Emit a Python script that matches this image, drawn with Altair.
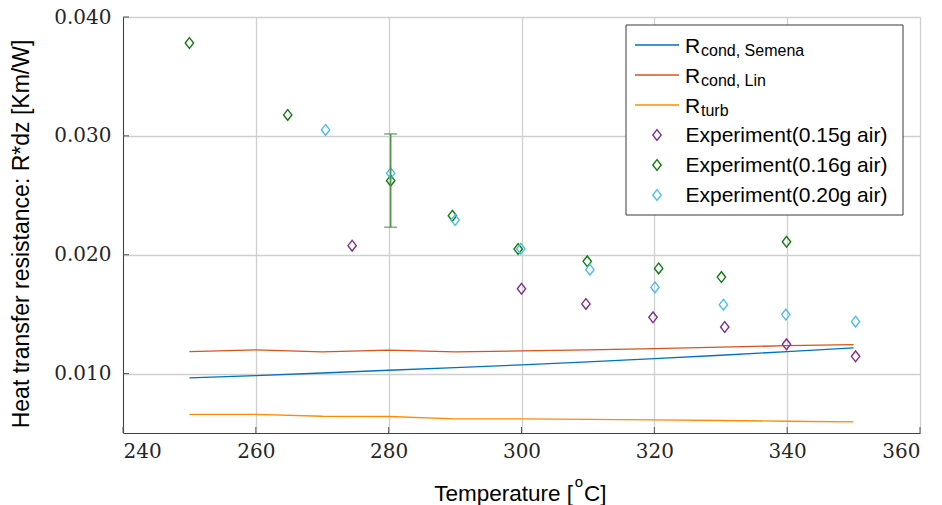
import altair as alt
import pandas as pd

# ---------------- data ----------------
temps_line = [250, 260, 270, 280, 290, 300, 310, 320, 330, 340, 350]
r_semena = [0.00964, 0.00983, 0.01005, 0.01028, 0.01050, 0.01073, 0.01098, 0.01126, 0.01154, 0.01185, 0.01216]
r_lin = [0.01185, 0.01199, 0.01183, 0.01198, 0.01183, 0.01191, 0.01200, 0.01210, 0.01222, 0.01235, 0.01244]
r_turb = [0.00656, 0.00656, 0.00641, 0.00639, 0.00619, 0.00619, 0.00615, 0.00611, 0.00605, 0.00599, 0.00594]

t_015 = [274.5, 300.0, 309.7, 319.8, 330.6, 339.9, 350.3]
r_015 = [0.02076, 0.01714, 0.01586, 0.01473, 0.01392, 0.01246, 0.01145]
t_016 = [250.0, 264.8, 280.3, 289.6, 299.5, 309.9, 320.65, 330.1, 339.9]
r_016 = [0.03781, 0.03176, 0.02623, 0.02328, 0.02048, 0.01944, 0.01885, 0.01812, 0.02109]
t_020 = [270.5, 280.3, 290.0, 299.9, 310.3, 320.1, 330.4, 339.8, 350.3]
r_020 = [0.0305, 0.02685, 0.02292, 0.0205, 0.01874, 0.01725, 0.01580, 0.01496, 0.01437]

err_t = [280.3]
err_lo = [0.02231]
err_hi = [0.03016]

line_series = ["Rcond, Semena", "Rcond, Lin", "Rturb"]
line_subs = ["cond, Semena", "cond, Lin", "turb"]
exp_series = ["Experiment(0.15g air)", "Experiment(0.16g air)", "Experiment(0.20g air)"]

x_ticks = [240, 260, 280, 300, 320, 340, 360]
y_ticks = [0.010, 0.020, 0.030, 0.040]

line_colors = ["#0072BD", "#D95319", "#FF8C00"]
exp_colors = ["#7E2F8E", "#137A13", "#4DBEEE"]

# ---------------- tables ----------------
lines_df = pd.concat([
    pd.DataFrame({"T": temps_line, "R": vals, "series": name})
    for name, vals in zip(line_series, [r_semena, r_lin, r_turb])
], ignore_index=True)

pts_df = pd.concat([
    pd.DataFrame({"T": t, "R": r, "series": name})
    for name, t, r in zip(exp_series, [t_015, t_016, t_020], [r_015, r_016, r_020])
], ignore_index=True)

err_df = pd.DataFrame({"T": err_t, "lo": err_lo, "hi": err_hi})
xt_df = pd.DataFrame({"T": x_ticks})
yt_df = pd.DataFrame({"R": y_ticks})
one = pd.DataFrame({"k": [0]})

W, H = 797, 416
xs = alt.Scale(domain=[240, 360], nice=False, zero=False)
ys = alt.Scale(domain=[0.005, 0.040], nice=False, zero=False)
cscale = alt.Scale(domain=line_series + exp_series, range=line_colors + exp_colors)
DIAMOND = "M0,-1L0.78,0L0,1L-0.78,0Z"
SANS = "Liberation Sans"
MSIZE = 115
MSTROKE = 1.4

lines = alt.Chart(lines_df).mark_line(strokeWidth=1.3).encode(
    x=alt.X("T:Q", scale=xs,
            axis=alt.Axis(values=x_ticks, format="d", title=None, labelPadding=8)),
    y=alt.Y("R:Q", scale=ys,
            axis=alt.Axis(values=y_ticks, format=".3f", title=None, labelPadding=12)),
    color=alt.Color("series:N", scale=cscale, legend=None),
)

points = alt.Chart(pts_df).mark_point(shape=DIAMOND, filled=False, size=MSIZE, strokeWidth=MSTROKE, opacity=1).encode(
    x=alt.X("T:Q", scale=xs),
    y=alt.Y("R:Q", scale=ys),
    color=alt.Color("series:N", scale=cscale, legend=None),
)

err_color = "#4E944E"
err_rule = alt.Chart(err_df).mark_rule(color=err_color, strokeWidth=1.6).encode(
    x=alt.X("T:Q", scale=xs), y=alt.Y("lo:Q", scale=ys), y2="hi:Q"
)
cap_lo = alt.Chart(err_df).mark_tick(color=err_color, orient="horizontal", size=13, thickness=1.6).encode(
    x=alt.X("T:Q", scale=xs), y=alt.Y("lo:Q", scale=ys)
)
cap_hi = alt.Chart(err_df).mark_tick(color=err_color, orient="horizontal", size=13, thickness=1.6).encode(
    x=alt.X("T:Q", scale=xs), y=alt.Y("hi:Q", scale=ys)
)

tick_color = "#555555"
xticks_in = alt.Chart(xt_df).mark_rule(color=tick_color, strokeWidth=1).encode(
    x=alt.X("T:Q", scale=xs), y=alt.value(H), y2=alt.value(H - 6)
)
yticks_in = alt.Chart(yt_df).mark_rule(color=tick_color, strokeWidth=1).encode(
    y=alt.Y("R:Q", scale=ys), x=alt.value(0), x2=alt.value(6)
)

# ---------------- titles ----------------
ytitle = alt.Chart(one).mark_text(angle=270, align="center", baseline="middle",
                                  font=SANS, fontSize=23, color="#000000").encode(
    x=alt.value(-101), y=alt.value(217), text=alt.value("Heat transfer resistance: R*dz [Km/W]"))
xt1 = alt.Chart(one).mark_text(align="right", baseline="alphabetic", font=SANS, fontSize=22.5, color="#000").encode(
    x=alt.value(450), y=alt.value(484), text=alt.value("Temperature ["))
xt2 = alt.Chart(one).mark_text(align="center", baseline="alphabetic", font=SANS, fontSize=15, color="#000").encode(
    x=alt.value(456), y=alt.value(470), text=alt.value("o"))
xt3 = alt.Chart(one).mark_text(align="left", baseline="alphabetic", font=SANS, fontSize=22.5, color="#000").encode(
    x=alt.value(461), y=alt.value(484), text=alt.value("C]"))

# ---------------- legend ----------------
legend_layers = [
    alt.Chart(one).mark_rect(fill="white", stroke="#3a3a3a", strokeWidth=1).encode(
        x=alt.value(503), x2=alt.value(780), y=alt.value(8), y2=alt.value(198))
]
row_y = [28, 58, 88, 118, 148, 178]
for i, (sub, col) in enumerate(zip(line_subs, line_colors)):
    yy = row_y[i]
    legend_layers.append(alt.Chart(one).mark_rule(color=col, strokeWidth=1.3).encode(
        x=alt.value(512), x2=alt.value(556), y=alt.value(yy)))
    legend_layers.append(alt.Chart(one).mark_text(align="left", baseline="alphabetic", font=SANS,
                                                  fontSize=21, color="#000").encode(
        x=alt.value(562), y=alt.value(yy + 7.5), text=alt.value("R")))
    legend_layers.append(alt.Chart(one).mark_text(align="left", baseline="alphabetic", font=SANS,
                                                  fontSize=16, color="#000").encode(
        x=alt.value(578), y=alt.value(yy + 11), text=alt.value(sub)))
for j, (lab, col) in enumerate(zip(exp_series, exp_colors)):
    yy = row_y[3 + j]
    legend_layers.append(alt.Chart(one).mark_point(shape=DIAMOND, filled=False, size=MSIZE,
                                                   strokeWidth=MSTROKE, color=col, opacity=1).encode(
        x=alt.value(534), y=alt.value(yy)))
    legend_layers.append(alt.Chart(one).mark_text(align="left", baseline="alphabetic", font=SANS,
                                                  fontSize=21, color="#000").encode(
        x=alt.value(562.5), y=alt.value(yy + 7.3), text=alt.value(lab)))

chart = alt.layer(
    lines, points, err_rule, cap_lo, cap_hi, xticks_in, yticks_in,
    ytitle, xt1, xt2, xt3, *legend_layers
).properties(
    width=W, height=H,
    autosize=alt.AutoSizeParams(type="none"),
    padding={"left": 123, "top": 17, "right": 22, "bottom": 72},
    background="white",
).configure_view(stroke=None).configure_axis(
    labelFont="DejaVu Serif", labelFontSize=20, labelColor="#262626",
    grid=True, gridColor="#cfcfcf", gridWidth=1.3,
    domainColor="#404040", domainWidth=1, ticks=False,
)

chart.save("out.html", embed_options={"renderer": "svg", "actions": False})
